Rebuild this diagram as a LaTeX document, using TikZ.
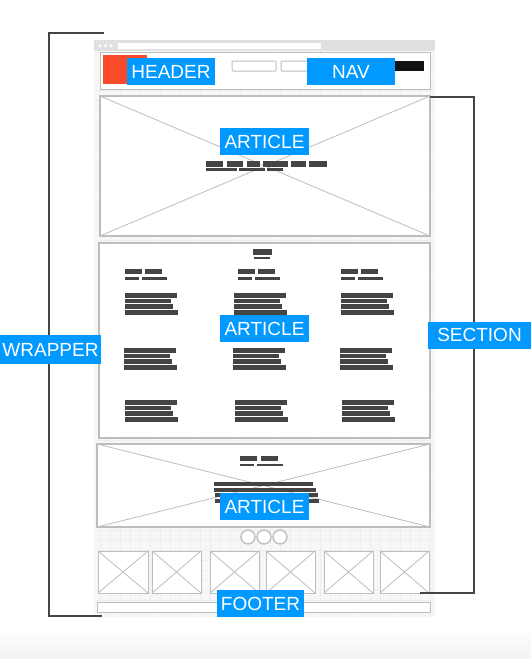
\documentclass[tikz,border=0pt]{standalone}
\usepackage{fontspec}
\setmainfont{Liberation Sans}
\definecolor{lblue}{HTML}{0099FF}
\definecolor{wire}{HTML}{BDBDBD}
\definecolor{barc}{HTML}{444444}
\definecolor{brk}{HTML}{444444}
\definecolor{pagebg}{HTML}{F7F7F7}
\definecolor{gridc}{HTML}{EEEEEE}
\definecolor{redbox}{HTML}{F94A2A}
\tikzset{
  lbl/.style={fill=lblue, text=white, font=\fontsize{19}{20}\selectfont, inner sep=0pt, minimum height=27pt},
  frame/.style={draw=wire, line width=1.4pt, fill=white},
  xline/.style={draw=wire, line width=0.8pt},
  bar/.style={fill=barc},
  brline/.style={draw=brk, line width=1.2pt},
}
\newcommand\parablock[2]{%
  \fill[bar] (#1,#2) rectangle ++(52,4.5);
  \fill[bar] (#1,#2+5.7) rectangle ++(46,4.5);
  \fill[bar] (#1,#2+11.4) rectangle ++(48,4.5);
  \fill[bar] (#1,#2+17.1) rectangle ++(53,4.5);
}
\newcommand\titleblock[2]{%
  \fill[bar] (#1,#2) rectangle ++(17,5);
  \fill[bar] (#1+20,#2) rectangle ++(17,5);
  \fill[bar] (#1,#2+8) rectangle ++(14,2.5);
  \fill[bar] (#1+17,#2+8) rectangle ++(25,2.5);
}
\newcommand\imgbox[2]{%
  \draw[frame, line width=1pt] (#1,551) rectangle (#2,593);
  \draw[xline] (#1,551) -- (#2,593) (#1,593) -- (#2,551);
}
\begin{document}
\begin{tikzpicture}[x=1pt,y=-1pt]
\useasboundingbox (0,0) rectangle (531,659);
\fill[white] (0,0) rectangle (531,659);
\shade[top color=white, bottom color=black!5] (0,628) rectangle (531,659);
% page background
\fill[pagebg] (94,40) rectangle (435,617);
\begin{scope}
\clip (94,51) rectangle (435,617);
\draw[gridc, line width=0.4pt, step=10pt] (90,50) grid (440,620);
\end{scope}
% browser bar
\fill[black!12] (94,40) rectangle (435,51);
\fill[white] (118,43) rectangle (321,48.5);
\foreach \cx in {100,105.5,111} \fill[white] (\cx,45.7) circle (1.6);
% header
\draw[frame, line width=1pt] (100,52) rectangle (430,89);
\fill[redbox] (103,55) rectangle (147,84);
\draw[wire, line width=1pt, rounded corners=1pt, fill=white] (232,61) rectangle (276,71);
\draw[wire, line width=1pt, rounded corners=1pt, fill=white] (281,61) rectangle (325,71);
\fill[black!93] (395,61) rectangle (424,71);
% article 1
\draw[frame] (100,96) rectangle (430,236);
\draw[xline] (100,96) -- (430,236) (100,236) -- (430,96);
\foreach \a/\b in {206/223,227/243,247/260,263/288,291/306,309/327}
  \fill[bar] (\a,161) rectangle (\b,166.5);
\foreach \a/\b in {206/237,239/265,267/283}
  \fill[bar] (\a,168) rectangle (\b,170.5);
% article 2
\draw[frame] (99,243) rectangle (430,438);
\fill[bar] (253,249) rectangle (272,254.5);
\fill[bar] (254,256.5) rectangle (270,259);
\titleblock{125}{269}
\titleblock{238}{269}
\titleblock{341}{269}
\parablock{125}{293}
\parablock{234}{293}
\parablock{341}{293}
\parablock{124}{348}
\parablock{233}{348}
\parablock{340}{348}
\parablock{125}{400}
\parablock{235}{400}
\parablock{342}{400}
% article 3
\draw[frame] (97,444) rectangle (430,527);
\draw[xline] (97,444) -- (430,527) (97,527) -- (430,444);
\fill[bar] (240,456) rectangle (257,461);
\fill[bar] (261,456) rectangle (278,461);
\fill[bar] (240,463.5) rectangle (254,466);
\fill[bar] (257,463.5) rectangle (283,466);
\fill[bar] (214,482) rectangle (313,486);
\fill[bar] (214,487.5) rectangle (316,491.5);
\fill[bar] (215,493) rectangle (318,497);
\fill[bar] (215,498.5) rectangle (319,502.5);
% circles
\foreach \cx in {248,264,280} \draw[wire, line width=1.3pt, fill=white] (\cx,537) circle (7);
% images
\imgbox{98}{148}
\imgbox{152}{201}
\imgbox{210}{259}
\imgbox{266}{315}
\imgbox{324}{373}
\imgbox{380}{429}
% footer bar
\draw[frame, line width=1pt] (97,602) rectangle (430,612);
% labels
\node[lbl, minimum width=88pt] (header) at (171,71.5) {HEADER};
\node[lbl, minimum width=88pt] (nav) at (351,71.5) {NAV};
\node[lbl, minimum width=89pt] (art1) at (264.5,141.5) {ARTICLE};
\node[lbl, minimum width=89pt] (art2) at (264.5,328.5) {ARTICLE};
\node[lbl, minimum width=89pt] (art3) at (264.5,506.5) {ARTICLE};
\node[lbl, minimum width=87pt] (footer) at (260.5,603.5) {FOOTER};
% wrapper bracket
\coordinate (wt) at (104,33);
\coordinate (wb) at (102,616);
\draw[brline] (wt) -- (49,33) -- (49,616) -- (wb);
\node[lbl, minimum width=101pt, minimum height=29pt] (wrapper) at (50.5,349.5) {WRAPPER};
% section bracket
\coordinate (st) at (430,97);
\coordinate (sb) at (420,593);
\draw[brline] (st) -- (474,97) -- (474,593) -- (sb);
\node[lbl, minimum width=103pt] (section) at (479.5,335) {SECTION};
\end{tikzpicture}
\end{document}
